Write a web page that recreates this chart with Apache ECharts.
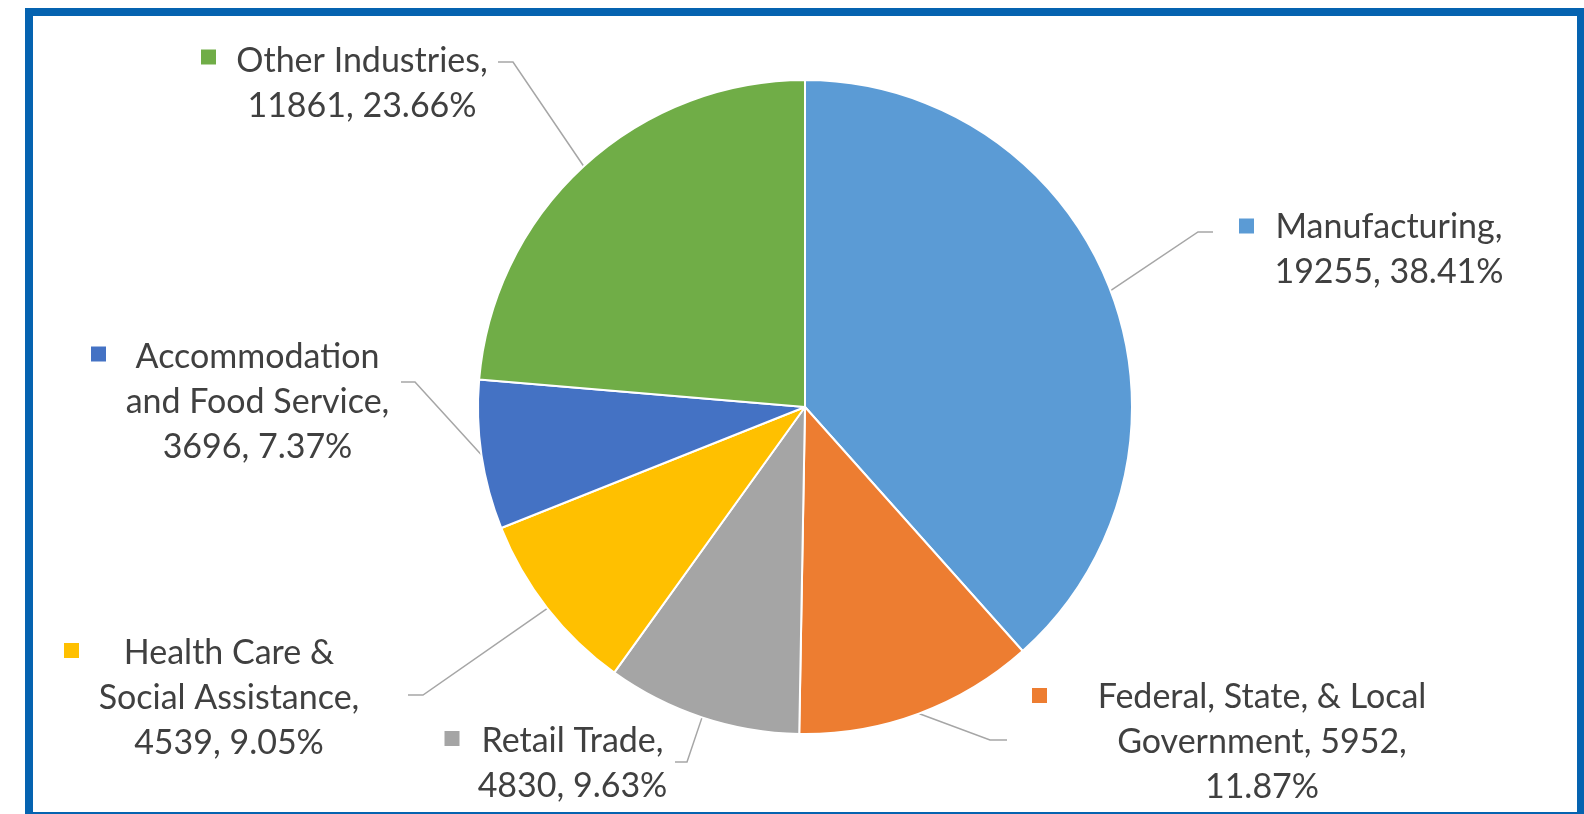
<!DOCTYPE html>
<html>
<head>
<meta charset="utf-8">
<title>Employment by Industry</title>
<script src="https://cdn.jsdelivr.net/npm/echarts@6/dist/echarts.min.js"></script>
<style>
  html, body { margin: 0; padding: 0; background: #ffffff; overflow: hidden; }
  #chart { position: absolute; left: 0; top: 0; width: 1584px; height: 814px; }
  #frame {
    position: absolute; left: 25px; top: 8px; width: 1560px; height: 812px;
    box-sizing: border-box; border: 8px solid #0563b0; pointer-events: none;
  }
</style>
</head>
<body>
<div id="chart"></div>
<div id="frame"></div>
<script>
// ---- data ----
const industries = [
  'Manufacturing',
  'Federal, State, & Local Government',
  'Retail Trade',
  'Health Care & Social Assistance',
  'Accommodation and Food Service',
  'Other Industries'
];
const employees = [19255, 5952, 4830, 4539, 3696, 11861];
// how each category name wraps inside its callout
const nameLines = [
  ['Manufacturing'],
  ['Federal, State, & Local', 'Government'],
  ['Retail Trade'],
  ['Health Care &', 'Social Assistance'],
  ['Accommodation', 'and Food Service'],
  ['Other Industries']
];
const sliceColors = ['#5b9bd5', '#ed7d31', '#a5a5a5', '#ffc000', '#4472c4', '#70ad47'];

// ---- layout ----
const PIE_CENTER = [805, 407];
const PIE_RADIUS = 327;
const FONT = 'Lato, "Open Sans", sans-serif';
// callout placement: text centre x, top of the text block, key square centre,
// leader elbow/end (the leader runs horizontally from elbowX to endX at lineY)
const callouts = [
  { textX: 1389, textY: 205, keyX: 1246.5, keyY: 226, lineY: 232, elbowX: 1198, endX: 1213, valueOnLastNameLine: false },
  { textX: 1262, textY: 675, keyX: 1039.5, keyY: 695.5, lineY: 740, elbowX: 990, endX: 1007, valueOnLastNameLine: true },
  { textX: 572.5, textY: 719, keyX: 452, keyY: 738.5, lineY: 762, elbowX: 687, endX: 675, valueOnLastNameLine: false },
  { textX: 229, textY: 631, keyX: 71.5, keyY: 650.5, lineY: 695, elbowX: 423, endX: 408, valueOnLastNameLine: false },
  { textX: 257.5, textY: 335, keyX: 98.5, keyY: 354, lineY: 382, elbowX: 415, endX: 401, valueOnLastNameLine: false },
  { textX: 362, textY: 39, keyX: 208.5, keyY: 57, lineY: 62, elbowX: 513, endX: 498, valueOnLastNameLine: false }
];

const total = employees.reduce((a, b) => a + b, 0);

function calloutText(i) {
  const pct = (employees[i] / total * 100).toFixed(2) + '%';
  const lines = nameLines[i].slice();
  const last = lines.length - 1;
  if (callouts[i].valueOnLastNameLine) {
    lines[last] = lines[last] + ', ' + employees[i] + ',';
    lines.push(pct);
  } else {
    lines[last] = lines[last] + ',';
    lines.push(employees[i] + ', ' + pct);
  }
  return lines.join('\n');
}

// mid-angle point on the rim, used if the library gives no leader start
function rimPoint(i) {
  let before = 0;
  for (let k = 0; k < i; k++) before += employees[k];
  const frac = (before + employees[i] / 2) / total;
  const a = frac * Math.PI * 2;
  return [PIE_CENTER[0] + PIE_RADIUS * Math.sin(a), PIE_CENTER[1] - PIE_RADIUS * Math.cos(a)];
}

const chart = echarts.init(document.getElementById('chart'), null, { renderer: 'canvas' });

const option = {
  animation: false,
  backgroundColor: '#ffffff',
  color: sliceColors,
  series: [
    {
      // the pie with its text callouts and leader lines
      type: 'pie',
      center: PIE_CENTER,
      radius: PIE_RADIUS,
      startAngle: 90,
      clockwise: true,
      silent: true,
      emphasis: { disabled: true },
      data: industries.map((n, i) => ({ name: n, value: employees[i] })),
      itemStyle: { borderColor: '#ffffff', borderWidth: 2 },
      label: {
        show: true,
        position: 'outside',
        formatter: (p) => calloutText(p.dataIndex),
        fontFamily: FONT,
        fontSize: 34,
        lineHeight: 45,
        color: '#404040'
      },
      labelLine: {
        show: true,
        length: 10,
        length2: 10,
        lineStyle: { color: '#a6a6a6', width: 1.5 }
      },
      labelLayout: (p) => {
        const c = callouts[p.dataIndex];
        const start = (p.labelLinePoints && p.labelLinePoints[0]) || rimPoint(p.dataIndex);
        return {
          x: c.textX,
          y: c.textY,
          align: 'center',
          verticalAlign: 'top',
          labelLinePoints: [start, [c.elbowX, c.lineY], [c.endX, c.lineY]]
        };
      },
      z: 2
    },
    {
      // legend-key squares that sit beside each callout
      type: 'pie',
      center: PIE_CENTER,
      radius: PIE_RADIUS,
      startAngle: 90,
      clockwise: true,
      silent: true,
      emphasis: { disabled: true },
      data: industries.map((n, i) => ({
        name: n,
        value: employees[i],
        label: { rich: { key: { width: 15, height: 15, lineHeight: 15, backgroundColor: sliceColors[i] } } }
      })),
      itemStyle: { color: 'rgba(0,0,0,0)' },
      label: { show: true, position: 'outside', formatter: '{key|}' },
      labelLine: { show: false },
      labelLayout: (p) => {
        const c = callouts[p.dataIndex];
        return { x: c.keyX, y: c.keyY, align: 'center', verticalAlign: 'middle' };
      },
      z: 1
    }
  ]
};

chart.setOption(option);
</script>
</body>
</html>
